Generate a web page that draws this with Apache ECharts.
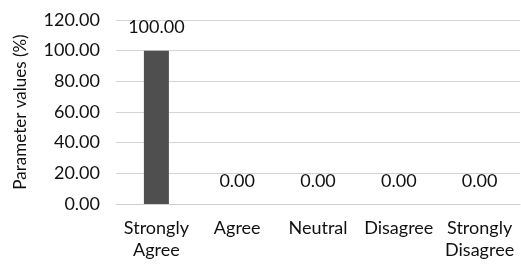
<!DOCTYPE html>
<html><head><meta charset="utf-8">
<script src="https://cdn.jsdelivr.net/npm/echarts@6/dist/echarts.min.js"></script>
<style>html,body{margin:0;padding:0;background:#fff}#c{width:521px;height:266px}</style>
</head><body><div id="c"></div>
<script>
const categories = ['Strongly\nAgree', 'Agree', 'Neutral', 'Disagree', 'Strongly\nDisagree'];
const values = [100, 0, 0, 0, 0];
const yTicks = { min: 0, max: 120, interval: 20 };
const chart = echarts.init(document.getElementById('c'), null, { renderer: 'canvas' });
const font = 'Lato';
const fs = 18;
chart.setOption({
  animation: false,
  backgroundColor: '#fff',
  grid: { left: 116, right: 1, top: 20, bottom: 62 },
  xAxis: {
    type: 'category', data: categories,
    axisLine: { show: true, lineStyle: { color: '#cfcfcf' } },
    axisTick: { show: false },
    axisLabel: { color: '#111', fontFamily: font, fontSize: fs, margin: 13, lineHeight: 22, interval: 0 }
  },
  yAxis: {
    type: 'value', min: yTicks.min, max: yTicks.max, interval: yTicks.interval,
    name: 'Parameter values (%)', nameLocation: 'middle', nameGap: 87,
    nameTextStyle: { color: '#111', fontFamily: font, fontSize: 17 },
    axisLine: { show: false }, axisTick: { show: false },
    splitLine: { lineStyle: { color: '#d4d4d4' } },
    axisLabel: { color: '#111', fontFamily: font, fontSize: fs, margin: 16, formatter: v => v.toFixed(2) }
  },
  series: [{
    type: 'bar', data: values, barWidth: 25,
    itemStyle: { color: '#4f4f4f' },
    label: { show: true, position: 'top', distance: 14, color: '#111', fontFamily: font, fontSize: fs, formatter: p => p.value.toFixed(2) }
  }]
});
</script></body></html>
